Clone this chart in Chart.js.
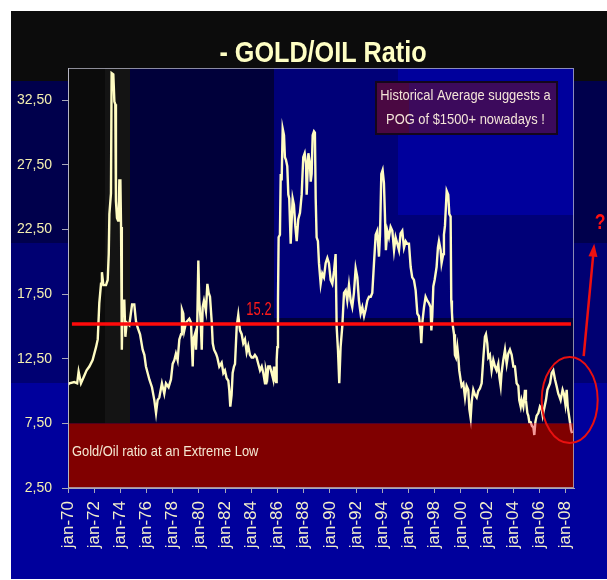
<!DOCTYPE html>
<html>
<head>
<meta charset="utf-8">
<title>- GOLD/OIL Ratio</title>
<script src="https://cdn.jsdelivr.net/npm/chart.js@4.4.1/dist/chart.umd.min.js"></script>
<style>
  html, body { margin: 0; padding: 0; background: #ffffff; }
  canvas { display: block; }
</style>
</head>
<body>
<canvas id="ratioChart" width="607" height="580"></canvas>
<script>
// Gold price divided by crude oil price, sampled through 1970 - mid 2008
const years = [
  1970.00, 1970.10, 1970.48, 1970.70, 1970.81, 1970.99, 1971.25, 1971.42, 1971.63, 1971.88,
  1972.14, 1972.27, 1972.39, 1972.52, 1972.59, 1972.70, 1972.90, 1973.03, 1973.11, 1973.16,
  1973.28, 1973.33, 1973.46, 1973.54, 1973.61, 1973.66, 1973.74, 1973.82, 1973.87, 1973.92,
  1974.00, 1974.05, 1974.10, 1974.12, 1974.17, 1974.30, 1974.38, 1974.48, 1974.68, 1974.89,
  1975.06, 1975.19, 1975.32, 1975.50, 1975.70, 1975.83, 1975.95, 1976.21, 1976.41, 1976.59,
  1976.72, 1976.84, 1976.97, 1977.17, 1977.35, 1977.48, 1977.68, 1977.86, 1977.99, 1978.12,
  1978.24, 1978.37, 1978.50, 1978.63, 1978.70, 1978.80, 1978.88, 1979.01, 1979.26, 1979.39,
  1979.44, 1979.52, 1979.57, 1979.69, 1979.77, 1979.87, 1979.95, 1980.02, 1980.13, 1980.21,
  1980.28, 1980.38, 1980.53, 1980.64, 1980.74, 1980.84, 1980.97, 1981.05, 1981.15, 1981.30,
  1981.40, 1981.55, 1981.73, 1981.86, 1981.98, 1982.11, 1982.24, 1982.31, 1982.39, 1982.49,
  1982.57, 1982.67, 1982.75, 1982.88, 1983.00, 1983.13, 1983.26, 1983.38, 1983.51, 1983.64,
  1983.76, 1983.89, 1984.02, 1984.15, 1984.27, 1984.40, 1984.53, 1984.66, 1984.79, 1984.91,
  1985.04, 1985.11, 1985.22, 1985.29, 1985.42, 1985.55, 1985.67, 1985.73, 1985.80, 1985.88,
  1985.93, 1985.98, 1986.03, 1986.08, 1986.18, 1986.24, 1986.31, 1986.39, 1986.49, 1986.56,
  1986.64, 1986.74, 1986.82, 1986.89, 1987.00, 1987.08, 1987.15, 1987.25, 1987.35, 1987.46,
  1987.58, 1987.71, 1987.84, 1987.96, 1988.07, 1988.17, 1988.22, 1988.35, 1988.47, 1988.53,
  1988.60, 1988.68, 1988.78, 1988.85, 1988.91, 1988.98, 1989.08, 1989.16, 1989.29, 1989.41,
  1989.54, 1989.67, 1989.80, 1989.92, 1990.05, 1990.18, 1990.31, 1990.43, 1990.51, 1990.61,
  1990.71, 1990.81, 1990.94, 1991.07, 1991.20, 1991.32, 1991.45, 1991.58, 1991.70, 1991.83,
  1991.96, 1992.09, 1992.21, 1992.34, 1992.47, 1992.60, 1992.72, 1992.85, 1992.98, 1993.11,
  1993.23, 1993.36, 1993.49, 1993.61, 1993.74, 1993.82, 1993.92, 1994.02, 1994.12, 1994.20,
  1994.27, 1994.38, 1994.50, 1994.63, 1994.76, 1994.89, 1995.01, 1995.14, 1995.27, 1995.39,
  1995.52, 1995.65, 1995.78, 1995.90, 1996.03, 1996.16, 1996.28, 1996.41, 1996.54, 1996.67,
  1996.79, 1996.92, 1996.97, 1997.05, 1997.18, 1997.30, 1997.43, 1997.56, 1997.68, 1997.74,
  1997.81, 1997.89, 1997.99, 1998.14, 1998.24, 1998.32, 1998.45, 1998.52, 1998.65, 1998.70,
  1998.78, 1998.91, 1999.03, 1999.11, 1999.21, 1999.26, 1999.31, 1999.36, 1999.47, 1999.54,
  1999.62, 1999.72, 1999.80, 1999.87, 1999.97, 2000.05, 2000.18, 2000.31, 2000.43, 2000.56,
  2000.64, 2000.74, 2000.82, 2000.94, 2001.07, 2001.20, 2001.32, 2001.45, 2001.58, 2001.71,
  2001.83, 2001.91, 2002.01, 2002.09, 2002.21, 2002.34, 2002.47, 2002.60, 2002.72, 2002.85,
  2002.93, 2003.03, 2003.10, 2003.23, 2003.36, 2003.49, 2003.61, 2003.74, 2003.87, 2004.00,
  2004.12, 2004.25, 2004.38, 2004.45, 2004.56, 2004.63, 2004.76, 2004.89, 2004.96, 2005.07,
  2005.14, 2005.22, 2005.32, 2005.42, 2005.53, 2005.60, 2005.68, 2005.78, 2005.91, 2006.03,
  2006.16, 2006.24, 2006.34, 2006.49, 2006.60, 2006.80, 2006.93, 2007.05, 2007.18, 2007.30,
  2007.43, 2007.51, 2007.61, 2007.76, 2007.86, 2007.97, 2008.07, 2008.15, 2008.22, 2008.32,
  2008.40, 2008.48
];

const ratio = [
  10.5, 10.6, 10.7, 10.6, 11.5, 10.6, 11.2, 11.6, 11.9, 12.4,
  13.4, 14.0, 16.8, 18.3, 19.2, 18.2, 18.2, 18.6, 20.6, 23.7,
  25.3, 34.6, 34.5, 32.4, 32.2, 24.7, 23.4, 23.2, 23.7, 26.3,
  26.3, 22.7, 17.0, 13.2, 17.0, 17.0, 14.2, 15.3, 15.1, 16.7,
  16.7, 15.4, 14.9, 14.4, 13.2, 12.8, 11.9, 10.9, 10.3, 9.3,
  8.3, 9.3, 9.5, 10.6, 9.8, 10.6, 10.3, 10.9, 12.1, 12.4,
  12.9, 12.4, 14.0, 14.4, 16.3, 16.0, 14.7, 15.3, 15.6, 15.3,
  14.0, 11.9, 14.0, 14.4, 13.2, 15.4, 20.1, 17.0, 15.4, 13.2,
  16.5, 17.0, 16.2, 18.3, 17.6, 17.3, 15.4, 13.7, 13.2, 12.9,
  12.6, 11.9, 12.2, 11.4, 11.6, 11.0, 10.8, 10.1, 8.8, 9.7,
  11.4, 11.9, 12.1, 15.0, 15.9, 14.7, 14.4, 13.7, 14.0, 13.0,
  13.5, 12.8, 12.6, 12.6, 12.8, 12.6, 12.1, 11.6, 11.9, 11.4,
  10.6, 11.6, 11.1, 11.9, 11.9, 11.4, 10.9, 11.9, 10.9, 10.7,
  12.4, 13.4, 17.0, 21.9, 22.1, 26.8, 26.3, 30.3, 29.8, 28.1,
  27.9, 27.4, 25.2, 24.9, 21.4, 23.3, 24.9, 24.4, 22.8, 21.6,
  23.3, 23.8, 25.2, 28.1, 28.4, 27.6, 25.2, 28.4, 27.6, 26.2,
  26.8, 29.8, 30.1, 30.0, 24.9, 21.9, 21.6, 19.9, 18.3, 19.1,
  18.8, 19.9, 20.3, 19.9, 18.6, 18.3, 19.3, 20.6, 15.0, 13.2,
  10.6, 13.4, 15.0, 17.6, 17.8, 17.0, 18.2, 17.0, 16.5, 17.6,
  19.5, 18.8, 17.0, 16.0, 16.5, 15.8, 16.3, 17.0, 17.3, 17.3,
  17.6, 19.9, 22.1, 22.4, 20.4, 22.1, 26.8, 27.1, 26.1, 23.5,
  20.9, 22.4, 21.9, 22.7, 22.4, 20.9, 21.9, 21.4, 20.9, 22.2,
  22.4, 21.1, 21.6, 21.4, 21.4, 19.6, 18.8, 18.6, 17.8, 16.0,
  15.8, 14.7, 13.7, 15.3, 16.5, 17.3, 17.0, 16.8, 16.5, 14.7,
  15.8, 18.1, 18.6, 19.6, 21.1, 21.6, 20.9, 19.9, 20.6, 22.1,
  22.8, 25.5, 25.2, 23.7, 23.5, 17.0, 16.1, 15.2, 14.4, 12.8,
  12.6, 13.4, 12.6, 11.6, 10.9, 10.4, 10.6, 9.5, 10.4, 10.1,
  8.6, 7.9, 9.2, 10.1, 9.7, 9.5, 10.0, 10.2, 10.6, 12.6,
  14.2, 14.4, 13.7, 12.6, 12.8, 11.6, 12.4, 11.9, 11.6, 12.1,
  11.1, 10.4, 11.4, 12.4, 13.2, 12.1, 12.9, 13.2, 12.8, 11.9,
  11.9, 10.6, 10.4, 9.3, 8.8, 9.3, 8.8, 10.1, 9.3, 8.3,
  8.1, 7.6, 7.6, 7.3, 7.2, 6.6, 7.6, 8.1, 8.3, 8.8,
  8.6, 8.1, 8.6, 9.3, 10.1, 10.6, 11.4, 11.6, 10.9, 10.4,
  9.8, 9.6, 9.3, 10.1, 9.8, 9.0, 10.1, 8.8, 8.3, 7.6,
  7.0, 6.75
];

// Axis ticks
const xTickYears = [1970, 1972, 1974, 1976, 1978, 1980, 1982, 1984, 1986, 1988,
                    1990, 1992, 1994, 1996, 1998, 2000, 2002, 2004, 2006, 2008];
const xTickLabels = ['jan-70', 'jan-72', 'jan-74', 'jan-76', 'jan-78', 'jan-80', 'jan-82',
                     'jan-84', 'jan-86', 'jan-88', 'jan-90', 'jan-92', 'jan-94', 'jan-96',
                     'jan-98', 'jan-00', 'jan-02', 'jan-04', 'jan-06', 'jan-08'];
const yTickValues = [2.5, 7.5, 12.5, 17.5, 22.5, 27.5, 32.5];
const yTickLabels = ['2,50', '7,50', '12,50', '17,50', '22,50', '27,50', '32,50'];

// Reference levels
const historicalAverage = 15.2;
const averageSpan = [1970.3, 2008.4];
const extremeLowCeiling = 7.5;
const extremeLowFloor = 2.5;
const latestZone = { year: 2008.3, value: 9.3 };

const CREAM = '#fffcc2';
const PINK = '#f59a9a';

function hasFont(name) {
  const c = document.createElement('canvas').getContext('2d');
  const s = 'abcdefghijklmnopqrstuvwxyz 0123456789,.';
  let differs = false;
  for (const base of ['monospace', 'serif']) {
    c.font = '20px ' + base;
    const w1 = c.measureText(s).width;
    c.font = '20px "' + name + '", ' + base;
    const w2 = c.measureText(s).width;
    if (Math.abs(w1 - w2) > 0.01) differs = true;
  }
  return differs;
}
const narrowOK = hasFont('Liberation Sans Narrow');
const yTickFont = narrowOK
  ? { family: '"Liberation Sans Narrow", sans-serif', size: 16 }
  : { family: '"Liberation Sans", Arial, sans-serif', size: 14 };

// Horizontally condensed text helper
function squashText(ctx, text, x, y, font, color, sx, align) {
  ctx.save();
  ctx.translate(x, y);
  ctx.scale(sx, 1);
  ctx.font = font;
  ctx.fillStyle = color;
  ctx.textAlign = align || 'left';
  ctx.textBaseline = 'alphabetic';
  ctx.fillText(text, 0, 0);
  ctx.restore();
}

// Slide backdrop, shaded panels and the extreme-low band
const backdropPlugin = {
  id: 'backdrop',
  beforeDraw(chart) {
    const { ctx, chartArea: a, scales } = chart;
    const yLow = scales.y.getPixelForValue(extremeLowCeiling);
    const yFloor = scales.y.getPixelForValue(extremeLowFloor);
    ctx.save();
    ctx.fillStyle = '#0c0c0c';
    ctx.fillRect(11, 11, chart.width - 11, 70);
    ctx.fillStyle = '#00004c';
    ctx.fillRect(11, 81, chart.width - 11, 162);
    ctx.fillStyle = '#000072';
    ctx.fillRect(11, 243, chart.width - 11, 140);
    ctx.fillStyle = '#00009c';
    ctx.fillRect(11, 383, chart.width - 11, 196);

    // panels behind the plot
    ctx.fillStyle = '#00003a';
    ctx.fillRect(a.left, a.top, a.right - a.left, yLow - a.top);
    ctx.fillStyle = '#0b0b0b';
    ctx.fillRect(a.left, a.top, 37, yLow - a.top);
    ctx.fillStyle = '#141414';
    ctx.fillRect(a.left + 37, a.top, 25, yLow - a.top);
    ctx.fillStyle = '#000078';
    ctx.fillRect(274, a.top, a.right - 274, 250);
    ctx.fillStyle = '#00009c';
    ctx.fillRect(398, a.top, a.right - 398, 147);

    // extreme-low band
    ctx.fillStyle = '#800000';
    ctx.fillRect(a.left, yLow, a.right - a.left, yFloor - yLow);
    ctx.restore();
  }
};

// Title, notes, circle and arrow
const notesPlugin = {
  id: 'notes',
  afterDraw(chart) {
    const { ctx, chartArea: a, scales } = chart;
    const x = scales.x, y = scales.y;
    ctx.save();

    // plot frame
    ctx.strokeStyle = 'rgba(185,185,200,0.75)';
    ctx.lineWidth = 1;
    ctx.strokeRect(a.left + 0.5, a.top + 0.5, a.right - a.left - 1, a.bottom - a.top - 1);

    // title
    squashText(ctx, '- GOLD/OIL Ratio', (a.left + a.right) / 2 + 2, 62,
      'bold 30px "Liberation Sans", Arial, sans-serif', '#ffffc4', 0.84, 'center');

    // band caption
    squashText(ctx, 'Gold/Oil ratio at an Extreme Low', a.left + 4, y.getPixelForValue(extremeLowCeiling) + 33,
      '15px "Liberation Sans", Arial, sans-serif', '#f4e8d2', 0.86, 'left');

    // average value label
    squashText(ctx, String(historicalAverage), x.getPixelForValue(1984.58),
      y.getPixelForValue(historicalAverage) - 9,
      '18px "Liberation Sans", Arial, sans-serif', '#ff1a1a', 0.72, 'center');

    // annotation box
    const bx = 376, by = 82, bw = 181, bh = 52;
    ctx.fillStyle = '#3c0a5c';
    ctx.fillRect(bx, by, bw, bh);
    ctx.fillStyle = '#4a0842';
    ctx.fillRect(bx, by, 33, bh);
    ctx.strokeStyle = '#14061c';
    ctx.lineWidth = 2;
    ctx.strokeRect(bx, by, bw, bh);
    squashText(ctx, 'Historical Average suggests a', bx + bw / 2 - 1, 100,
      '15px "Liberation Sans", Arial, sans-serif', '#f4e4d8', 0.86, 'center');
    squashText(ctx, 'POG of $1500+ nowadays !', bx + bw / 2 - 1, 124,
      '15px "Liberation Sans", Arial, sans-serif', '#f4e4d8', 0.86, 'center');

    // circle around the latest readings
    const cx = x.getPixelForValue(latestZone.year);
    const cy = y.getPixelForValue(latestZone.value);
    ctx.strokeStyle = '#e81010';
    ctx.lineWidth = 2;
    ctx.beginPath();
    ctx.ellipse(cx, cy, 28, 43, 0, 0, Math.PI * 2);
    ctx.stroke();

    // arrow pointing up to the question mark
    const sx = cx + 14, sy = cy - 44;
    const tx = sx + 10.5, ty = y.getPixelForValue(21.4);
    ctx.strokeStyle = '#ee1010';
    ctx.lineWidth = 2.5;
    ctx.beginPath();
    ctx.moveTo(sx, sy);
    ctx.lineTo(tx - (tx - sx) * 0.08, ty + 10);
    ctx.stroke();
    const ang = Math.atan2(ty - sy, tx - sx);
    ctx.fillStyle = '#ee1010';
    ctx.beginPath();
    ctx.moveTo(tx, ty);
    ctx.lineTo(tx - 13 * Math.cos(ang) + 4.5 * Math.sin(ang), ty - 13 * Math.sin(ang) - 4.5 * Math.cos(ang));
    ctx.lineTo(tx - 13 * Math.cos(ang) - 4.5 * Math.sin(ang), ty - 13 * Math.sin(ang) + 4.5 * Math.cos(ang));
    ctx.closePath();
    ctx.fill();

    squashText(ctx, '?', tx + 6, ty - 15, 'bold 22px "Liberation Sans", Arial, sans-serif', '#ff1010', 0.8, 'center');
    ctx.restore();
  }
};

function lineColour(context) {
  const chart = context.chart;
  const a = chart.chartArea;
  if (!a) return CREAM;
  const yPix = chart.scales.y.getPixelForValue(extremeLowCeiling);
  const f = Math.min(Math.max((yPix - a.top) / (a.bottom - a.top), 0), 1);
  const g = chart.ctx.createLinearGradient(0, a.top, 0, a.bottom);
  g.addColorStop(0, CREAM);
  g.addColorStop(f, CREAM);
  g.addColorStop(f, PINK);
  g.addColorStop(1, PINK);
  return g;
}

new Chart(document.getElementById('ratioChart'), {
  type: 'line',
  data: {
    datasets: [
      {
        label: 'Gold/Oil',
        data: years.map((t, i) => ({ x: t, y: ratio[i] })),
        borderColor: lineColour,
        borderWidth: 2.4,
        pointRadius: 0,
        tension: 0,
        fill: false,
        order: 1
      },
      {
        label: 'Historical average',
        data: averageSpan.map(t => ({ x: t, y: historicalAverage })),
        borderColor: '#ff0a0a',
        borderWidth: 3.5,
        pointRadius: 0,
        fill: false,
        order: 0
      }
    ]
  },
  options: {
    responsive: false,
    devicePixelRatio: 1,
    animation: false,
    events: [],
    layout: { autoPadding: false, padding: { left: 10, right: 33, top: 68, bottom: 0 } },
    plugins: { legend: { display: false }, tooltip: { enabled: false }, title: { display: false } },
    scales: {
      x: {
        type: 'linear',
        min: 1970,
        max: 2008.63,
        afterFit: s => { s.height = 92; },
        afterBuildTicks: s => { s.ticks = xTickYears.map(v => ({ value: v })); },
        grid: { display: true, drawOnChartArea: false, drawTicks: true, tickLength: 5, color: '#a8a8b8' },
        border: { display: true, color: '#a8a8b8' },
        ticks: {
          autoSkip: false,
          minRotation: 90,
          maxRotation: 90,
          padding: 8,
          color: '#f2eecb',
          font: { family: '"Liberation Sans", Arial, sans-serif', size: 17 },
          callback: (v, i) => xTickLabels[i]
        }
      },
      y: {
        type: 'linear',
        min: 2.5,
        max: 35,
        afterFit: s => { s.width = 58; },
        afterBuildTicks: s => { s.ticks = yTickValues.map(v => ({ value: v })); },
        grid: { display: true, drawOnChartArea: false, drawTicks: true, tickLength: 6, color: '#a8a8b8' },
        border: { display: true, color: '#a8a8b8' },
        ticks: {
          padding: 10,
          color: '#f4f0b0',
          font: yTickFont,
          callback: (v, i) => yTickLabels[i]
        }
      }
    }
  },
  plugins: [backdropPlugin, notesPlugin]
});
</script>
</body>
</html>
